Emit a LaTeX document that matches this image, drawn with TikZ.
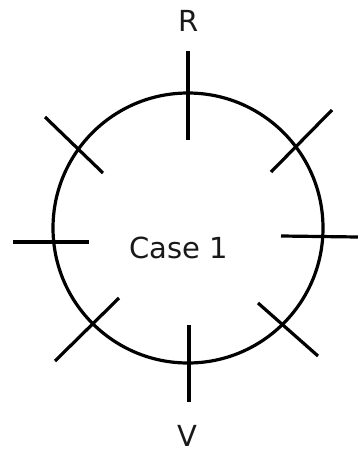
\documentclass[tikz,border=0pt]{standalone}
\usepackage{fontspec}
\setmainfont{DejaVu Sans}
\begin{document}
\begin{tikzpicture}[x=1pt,y=-1pt,
  ring/.style={draw=black,line width=3.2pt,circle,minimum size=270pt,inner sep=0pt},
  tick/.style={draw=black,line width=3.2pt},
  lbl/.style={font=\fontsize{29}{32}\selectfont,text=black!90,inner sep=0pt}]
\useasboundingbox (0,0) rectangle (358,452);
\node[ring] (c) at (188,228) {};
\node[lbl] (case) at (179,248) {Case 1};
\node[lbl] (r) at (189,21) {R};
\node[lbl] (v) at (187,436) {V};
\coordinate (t1) at (188,51);  \coordinate (t2) at (188,140);
\coordinate (b1) at (189,325); \coordinate (b2) at (189,402);
\coordinate (l1) at (13,242);  \coordinate (l2) at (89,242);
\coordinate (r1) at (281,236); \coordinate (r2) at (358,237);
\coordinate (ul1) at (45,117); \coordinate (ul2) at (103,173);
\coordinate (ur1) at (332,110);\coordinate (ur2) at (271,172);
\coordinate (ll1) at (119,298);\coordinate (ll2) at (55,361);
\coordinate (lr1) at (258,303);\coordinate (lr2) at (318,356);
\draw[tick] (t1) -- (t2);
\draw[tick] (b1) -- (b2);
\draw[tick] (l1) -- (l2);
\draw[tick] (r1) -- (r2);
\draw[tick] (ul1) -- (ul2);
\draw[tick] (ur1) -- (ur2);
\draw[tick] (ll1) -- (ll2);
\draw[tick] (lr1) -- (lr2);
\end{tikzpicture}
\end{document}
